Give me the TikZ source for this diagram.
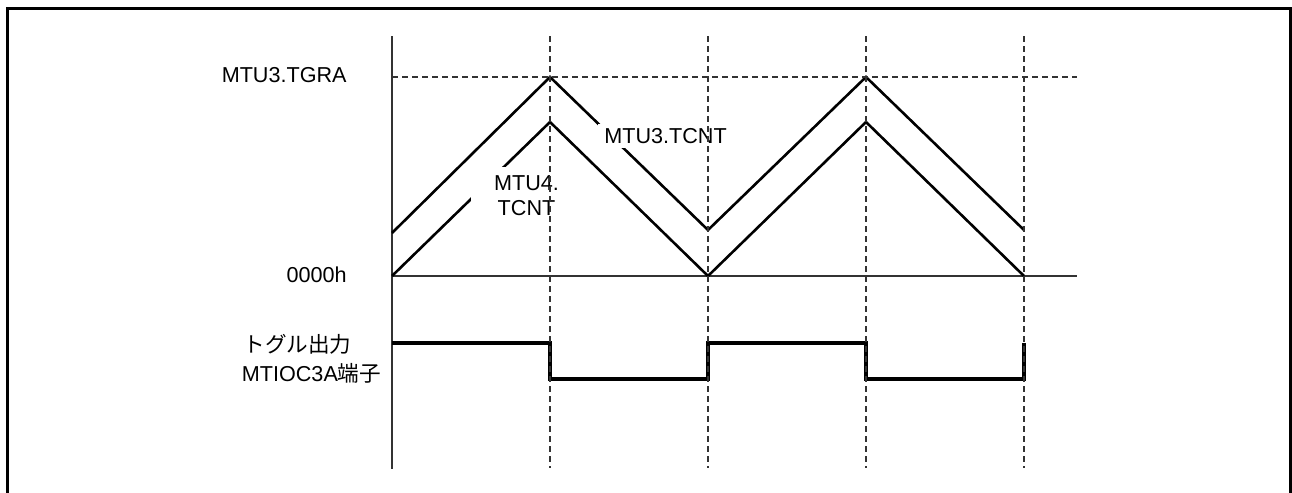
\documentclass[tikz,border=0pt]{standalone}
\usepackage{fontspec}
\setmainfont{Liberation Sans}
\newfontfamily\cjk{Noto Sans CJK JP}
\begin{document}
\begin{tikzpicture}[x=0.5pt,y=-0.5pt,
  every node/.style={font=\fontsize{10.8}{12.5}\selectfont, inner sep=0pt},
  frameline/.style={line width=1.5pt, black},
  axisline/.style={line width=0.75pt, black!80},
  guide/.style={line width=0.7pt, black!80, dash pattern=on 3pt off 2pt},
  wave/.style={line width=1.3pt, black, line join=miter},
  pulse/.style={line width=1.7pt, black},
  gaplabel/.style={fill=white, align=center}]
\useasboundingbox (0,0) rectangle (1292,493);
\clip (0,0) rectangle (1292,493);
% frame
\draw[frameline] (7,520) -- (7,8.5) -- (1290,8.5) -- (1290,520);
% axes
\draw[axisline] (392,36) -- (392,469);
\draw[axisline] (392,276) -- (1077,276);
% waveforms
\draw[wave] (392,233) -- (550,77) -- (708,230) -- (866,77) -- (1024,230);
\draw[wave] (392,276) -- (550,122) -- (708,276) -- (866,122) -- (1024,276);
\draw[pulse] (392,343) -- (550,343) -- (550,379) -- (708,379) -- (708,343) -- (866,343) -- (866,379) -- (1024,379) -- (1024,343);
% labels on the curves
\node[gaplabel, minimum height=12pt, inner xsep=3pt] (mtu3) at (665.5,136) {MTU3.TCNT};
\node[gaplabel, minimum width=56pt, minimum height=28.5pt] (mtu4) at (526.5,195.5) {MTU4.\\TCNT};
% guides
\draw[guide] (392,77) -- (1077,77);
\foreach \gx in {550,708,866,1024} \draw[guide] (\gx,36) -- (\gx,468);
% left labels
\node[anchor=east] (tgra) at (347,75) {MTU3.TGRA};
\node[anchor=east] (zero) at (347,275) {0000h};
\node (tog1) at (297.5,344) {\cjk トグル出力};
\node (tog2) at (311.5,373) {MTIOC3A{\cjk 端子}};
\end{tikzpicture}
\end{document}
